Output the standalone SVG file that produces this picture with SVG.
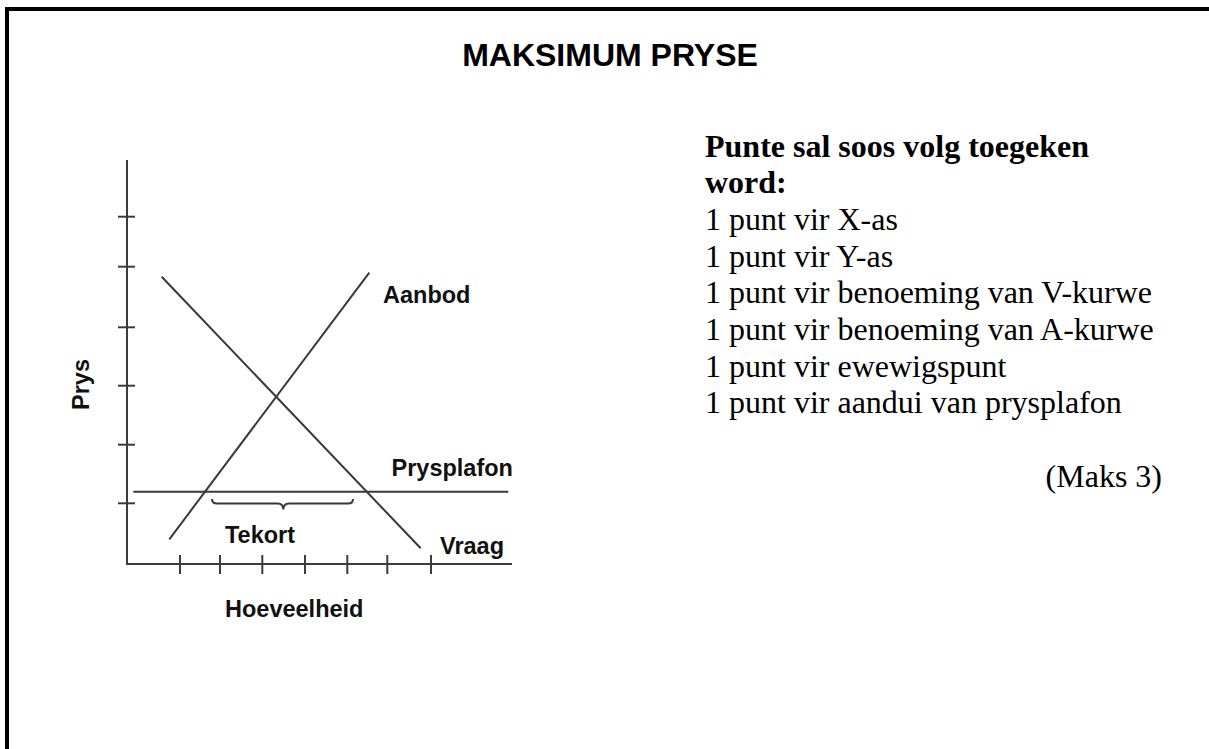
<svg xmlns="http://www.w3.org/2000/svg" width="1209" height="749" viewBox="0 0 1209 749">
  <style>
    .ax { stroke: #3c3c3c; stroke-width: 2; fill: none; stroke-linecap: butt; }
    .ln { stroke: #383838; stroke-width: 2; fill: none; }
    .lbl { font-family: "Liberation Sans", Arial, sans-serif; font-weight: bold; font-size: 23.5px; fill: #111; }
    .ttl { font-family: "Liberation Sans", Arial, sans-serif; font-weight: bold; font-size: 32px; fill: #000; }
    .txt { font-family: "Liberation Serif", "Times New Roman", serif; font-size: 32px; fill: #000; }
    .bld { font-weight: bold; }
  </style>
  <rect x="0" y="0" width="1209" height="749" fill="#fff"/>
  <rect id="frame" x="7" y="9" width="1240" height="800" fill="none" stroke="#000" stroke-width="4"/>

  <g id="title">
    <text class="ttl" x="610" y="66" text-anchor="middle">MAKSIMUM PRYSE</text>
  </g>

  <g id="axes">
    <line class="ax" x1="127" y1="160" x2="127" y2="565"/>
    <line class="ax" x1="126" y1="564" x2="512" y2="564"/>
    <g id="y-ticks">
      <line class="ax" x1="118" y1="216.7" x2="135" y2="216.7"/>
      <line class="ax" x1="118" y1="266.7" x2="135" y2="266.7"/>
      <line class="ax" x1="118" y1="327.3" x2="135" y2="327.3"/>
      <line class="ax" x1="118" y1="385.7" x2="135" y2="385.7"/>
      <line class="ax" x1="118" y1="444.7" x2="135" y2="444.7"/>
      <line class="ax" x1="118" y1="503.3" x2="135" y2="503.3"/>
    </g>
    <g id="x-ticks">
      <line class="ax" x1="180" y1="555" x2="180" y2="574"/>
      <line class="ax" x1="220" y1="555" x2="220" y2="574"/>
      <line class="ax" x1="262.3" y1="555" x2="262.3" y2="574"/>
      <line class="ax" x1="305" y1="555" x2="305" y2="574"/>
      <line class="ax" x1="347.3" y1="555" x2="347.3" y2="574"/>
      <line class="ax" x1="387.3" y1="555" x2="387.3" y2="574"/>
      <line class="ax" x1="431" y1="555" x2="431" y2="574"/>
    </g>
  </g>

  <g id="connectors">
    <line id="demand" class="ln" x1="161.7" y1="276.7" x2="420.7" y2="548.3"/>
    <line id="supply" class="ln" x1="169.3" y1="539.3" x2="369.3" y2="272.7"/>
    <line id="ceiling" class="ln" x1="133.3" y1="491.7" x2="508.3" y2="491.7"/>
    <path id="brace" class="ln" stroke-width="2.5" d="M212,499 Q212,503.5 217,503.5 L278,503.5 Q283,503.5 283.3,509.5 Q283.6,503.5 289,503.5 L348,503.5 Q353,503.5 353,499"/>
  </g>

  <g id="labels">
    <text id="lbl-aanbod" class="lbl" x="383" y="303.3">Aanbod</text>
    <text id="lbl-prysplafon" class="lbl" x="391.5" y="476">Prysplafon</text>
    <text id="lbl-tekort" class="lbl" x="225" y="543.3">Tekort</text>
    <text id="lbl-vraag" class="lbl" x="440" y="553.5">Vraag</text>
    <text id="lbl-hoeveelheid" class="lbl" x="225" y="616.7">Hoeveelheid</text>
    <text id="lbl-prys" class="lbl" transform="translate(89,410) rotate(-90)">Prys</text>
  </g>

  <g id="marking">
    <text class="txt bld" x="705" y="156.7">Punte sal soos volg toegeken</text>
    <text class="txt bld" x="705" y="193.3">word:</text>
    <text class="txt" x="705" y="230">1 punt vir X-as</text>
    <text class="txt" x="705" y="266.7">1 punt vir Y-as</text>
    <text class="txt" x="705" y="303.3">1 punt vir benoeming van V-kurwe</text>
    <text class="txt" x="705" y="340">1 punt vir benoeming van A-kurwe</text>
    <text class="txt" x="705" y="376.7">1 punt vir ewewigspunt</text>
    <text class="txt" x="705" y="413.3">1 punt vir aandui van prysplafon</text>
    <text class="txt" x="1162" y="486.7" text-anchor="end">(Maks 3)</text>
  </g>
</svg>
